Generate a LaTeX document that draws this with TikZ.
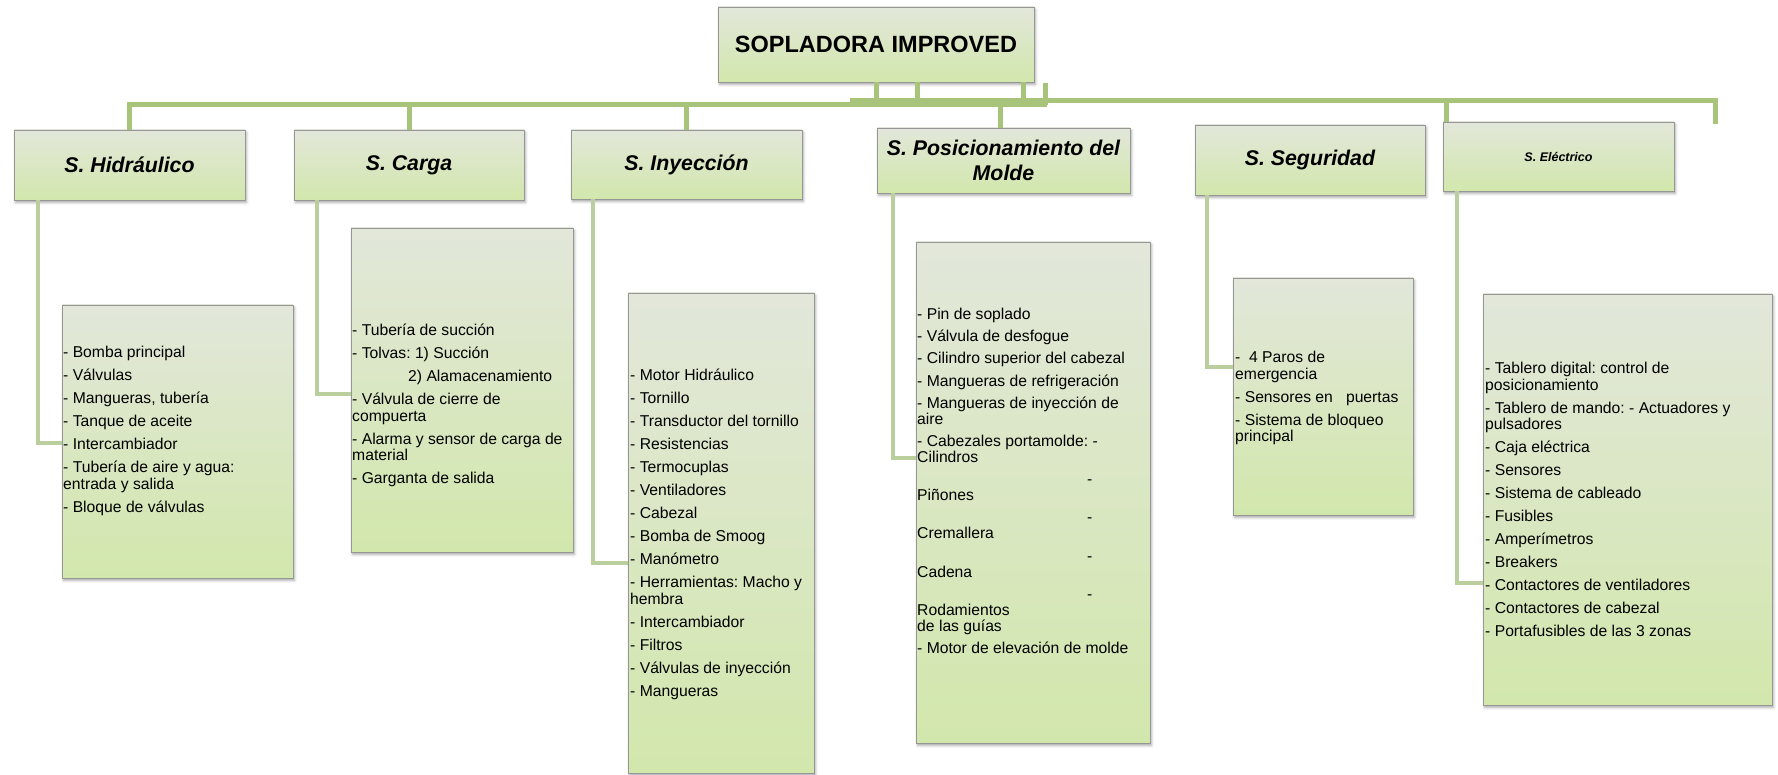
\documentclass[tikz,border=0pt]{standalone}
\usepackage{fontspec}
\setmainfont{Liberation Sans}
\usetikzlibrary{shadows.blur}
\frenchspacing

\definecolor{busgreen}{RGB}{168,196,122}
\definecolor{linkgreen}{RGB}{186,207,157}
\definecolor{boxtop}{RGB}{226,231,218}
\definecolor{boxbot}{RGB}{210,231,172}
\definecolor{boxedge}{RGB}{150,150,150}

\newcommand\itemgap{6.5pt}

\tikzset{
  card/.style={draw=boxedge, line width=0.8pt, top color=boxtop, bottom color=boxbot,
    inner sep=0pt, outer sep=0pt, anchor=north west,
    blur shadow={shadow xshift=1.5pt, shadow yshift=-2.5pt, shadow blur radius=2.5pt, shadow opacity=35}},
  head/.style={card, font=\fontsize{21.3}{25}\selectfont\bfseries\itshape, align=center},
  bus/.style={draw=busgreen, line width=5pt},
  link/.style={draw=linkgreen, line width=4.5pt},
  listtext/.style={anchor=base west, inner sep=0pt, font=\fontsize{15.7}{16.5}\selectfont\frenchspacing},
}

\begin{document}
\begin{tikzpicture}[x=1pt,y=-1pt]
\useasboundingbox (0,0) rectangle (1778,775);

% ---------- root ----------
\node[card, minimum width=316pt, minimum height=75pt,
      font=\fontsize{23.5}{28}\selectfont\bfseries] (root) at (718,7) {SOPLADORA IMPROVED};

% ---------- subsystem headings ----------
\node[head, minimum width=231pt, minimum height=70pt] (h1) at (14,130) {S. Hidráulico};
\node[head, minimum width=230pt, minimum height=70pt] (h2) at (294,130) {S. Carga};
\node[head, minimum width=231pt, minimum height=69pt] (h3) at (571,130) {S. Inyección};
\node[head, minimum width=253pt, minimum height=65pt] (h4) at (877,128) {S. Posicionamiento del\\Molde};
\node[head, minimum width=230pt, minimum height=70pt] (h5) at (1195,125) {S. Seguridad};
\node[head, minimum width=231pt, minimum height=69pt,
      font=\fontsize{12.5}{15}\selectfont\bfseries\itshape] (h6) at (1443,122) {S. Eléctrico};

% ---------- component boxes ----------
\node[card, minimum width=231pt, minimum height=273pt] (l1) at (62,305) {};
\node[card, minimum width=222pt, minimum height=324pt] (l2) at (351,228) {};
\node[card, minimum width=186pt, minimum height=480pt] (l3) at (628,293) {};
\node[card, minimum width=234pt, minimum height=501pt] (l4) at (916,242) {};
\node[card, minimum width=180pt, minimum height=237pt] (l5) at (1233,278) {};
\node[card, minimum width=289pt, minimum height=411pt] (l6) at (1483,294) {};

% ---------- bus bars ----------
\coordinate (bl0) at (130,105);
\coordinate (bl1) at (1047,105);
\coordinate (br0) at (850,101);
\coordinate (br1) at (1715,101);
\coordinate (rend) at (1715,124);
\coordinate (r1) at (876,105);
\coordinate (r2) at (917,105);
\coordinate (r3) at (1023,101);
\coordinate (r4t) at (1045,83);

\draw[bus] (br0) -- (br1) -- (rend);
\draw[bus] (h1.north) |- (bl1);
\draw[bus] (h2.north) -- (h2.north |- bl0);
\draw[bus] (h3.north) -- (h3.north |- bl0);
\draw[bus] ([xshift=-3pt]h4.north) -- ([xshift=-3pt]h4.north |- bl0);
\draw[bus] ([xshift=3pt]h6.north west) -- ([xshift=3pt]h6.north west |- br0);
\draw[bus] (root.south -| r1) -- (r1);
\draw[bus] (root.south -| r2) -- (r2);
\draw[bus] (root.south -| r3) -- (r3);
\draw[bus] (r4t) -- (r4t |- bl1);

% ---------- heading to component links ----------
\coordinate (k1) at (38,443);
\coordinate (k2) at (317,394);
\coordinate (k3) at (593,563);
\coordinate (k4) at (893,458);
\coordinate (k5) at (1207,367);
\coordinate (k6) at (1457,583);
\draw[link] (h1.south -| k1) |- (l1.west |- k1);
\draw[link] (h2.south -| k2) |- (l2.west |- k2);
\draw[link] (h3.south -| k3) |- (l3.west |- k3);
\draw[link] (h4.south -| k4) |- (l4.west |- k4);
\draw[link] (h5.south -| k5) |- (l5.west |- k5);
\draw[link] (h6.south -| k6) |- (l6.west |- k6);

% ---------- component lists ----------
\node[listtext] (t1) at (63,358) {\parbox[t]{300pt}{\raggedright
- Bomba principal\\[\itemgap]
- Válvulas\\[\itemgap]
- Mangueras, tubería\\[\itemgap]
- Tanque de aceite\\[\itemgap]
- Intercambiador\\[\itemgap]
- Tubería de aire y agua:\\entrada y salida\\[\itemgap]
- Bloque de válvulas}};

\node[listtext] (t2) at (352,336) {\parbox[t]{300pt}{\raggedright
- Tubería de succión\\[\itemgap]
- Tolvas: 1) Succión\\[\itemgap]
\hspace*{56pt}2) Alamacenamiento\\[\itemgap]
- Válvula de cierre de\\compuerta\\[\itemgap]
- Alarma y sensor de carga de\\material\\[\itemgap]
- Garganta de salida}};

\node[listtext] (t3) at (630,381) {\parbox[t]{300pt}{\raggedright
- Motor Hidráulico\\[\itemgap]
- Tornillo\\[\itemgap]
- Transductor del tornillo\\[\itemgap]
- Resistencias\\[\itemgap]
- Termocuplas\\[\itemgap]
- Ventiladores\\[\itemgap]
- Cabezal\\[\itemgap]
- Bomba de Smoog\\[\itemgap]
- Manómetro\\[\itemgap]
- Herramientas: Macho y\\hembra\\[\itemgap]
- Intercambiador\\[\itemgap]
- Filtros\\[\itemgap]
- Válvulas de inyección\\[\itemgap]
- Mangueras}};

\node[listtext, font=\fontsize{15.7}{16}\selectfont] (t4) at (917,319.5) {\parbox[t]{300pt}{\raggedright
- Pin de soplado\\[6.2pt]
- Válvula de desfogue\\[6.2pt]
- Cilindro superior del cabezal\\[6.2pt]
- Mangueras de refrigeración\\[6.2pt]
- Mangueras de inyección de\\aire\\[6.2pt]
- Cabezales portamolde: -\\Cilindros\\[6.2pt]
\hspace*{170pt}-\\Piñones\\[6.2pt]
\hspace*{170pt}-\\Cremallera\\[6.2pt]
\hspace*{170pt}-\\Cadena\\[6.2pt]
\hspace*{170pt}-\\Rodamientos\\de las guías\\[6.2pt]
- Motor de elevación de molde}};

\node[listtext] (t5) at (1235,363) {\parbox[t]{300pt}{\raggedright
-~~4 Paros de\\emergencia\\[\itemgap]
- Sensores en~~~puertas\\[\itemgap]
- Sistema de bloqueo\\principal}};

\node[listtext] (t6) at (1485,374) {\parbox[t]{300pt}{\raggedright
- Tablero digital: control de\\posicionamiento\\[\itemgap]
- Tablero de mando: - Actuadores y\\pulsadores\\[\itemgap]
- Caja eléctrica\\[\itemgap]
- Sensores\\[\itemgap]
- Sistema de cableado\\[\itemgap]
- Fusibles\\[\itemgap]
- Amperímetros\\[\itemgap]
- Breakers\\[\itemgap]
- Contactores de ventiladores\\[\itemgap]
- Contactores de cabezal\\[\itemgap]
- Portafusibles de las 3 zonas}};
\end{tikzpicture}
\end{document}
